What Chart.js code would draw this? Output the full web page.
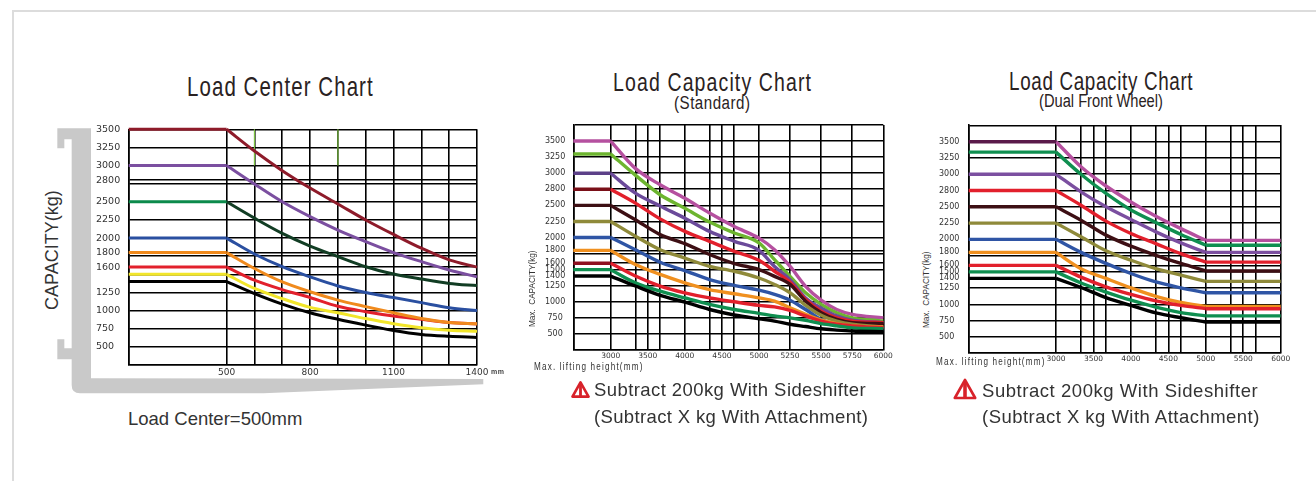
<!DOCTYPE html>
<html>
<head>
<meta charset="UTF-8">
<script src="https://cdn.jsdelivr.net/npm/chart.js"></script>
<style>
  html, body { margin:0; padding:0; background:#fff; }
  body { width:1316px; height:481px; position:relative; overflow:hidden; font-family:'Liberation Sans',sans-serif; color:#222; }
  canvas { position:absolute; }
  .frame { position:absolute; left:12px; top:10px; width:1320px; height:480px; border:2px solid #dcdcdc; }
  .txt { position:absolute; white-space:nowrap; line-height:1; transform-origin:0 0; }
  .head { color:#2a2222; }
  .note { font-size:18.5px; letter-spacing:.42px; color:#333; }
  .cap { font-size:11px; letter-spacing:1.6px; color:#333; transform:scaleX(.74); }
  .rot { transform:rotate(-90deg); }
  svg { position:absolute; }
</style>
</head>
<body>
<div class="frame"></div>

<!-- fork shape behind the first chart -->
<svg style="left:0;top:0" width="1316" height="481">
  <path transform="translate(30 60) scale(.3333)" fill="#c9c9c9"
    d="M82,205 L183,205 L183,955 L1360,957 L1360,973 L700,1000 L150,1000 Q125,1000 125,975 L125,898 L82,898 L82,838 L103,838 L103,865 L125,865 L125,238 L103,238 L103,265 L82,265 Z"/>
</svg>

<canvas id="cvsLoad" width="420" height="262" style="left:96px;top:120px"></canvas>
<canvas id="cvsStd" width="360" height="255" style="left:544px;top:115px"></canvas>
<canvas id="cvsDual" width="360" height="255" style="left:939px;top:115px"></canvas>

<div class="txt head" style="left:187px;top:73px;font-size:28px;letter-spacing:1.5px;transform:scaleX(.73)">Load Center Chart</div>
<div class="txt rot" style="left:43px;top:310px;font-size:18px;color:#333">CAPACITY(kg)</div>
<div class="txt" style="left:491px;top:368px;font-size:7px;font-weight:bold;color:#444;letter-spacing:.5px">mm</div>
<div class="txt" style="left:128px;top:410px;font-size:18.5px;color:#333">Load Center=500mm</div>

<div class="txt head" style="left:613px;top:69px;font-size:26px;letter-spacing:1.5px;transform:scaleX(.75)">Load Capacity Chart</div>
<div class="txt head" style="left:674px;top:94px;font-size:18px;letter-spacing:.6px;transform:scaleX(.84)">(Standard)</div>
<div class="txt" style="left:527px;top:327px;font-size:9.5px;color:#333;transform:rotate(-90deg) scaleX(.86)">Max.&nbsp; CAPACITY(kg)</div>
<div class="txt cap" style="left:534px;top:361px">Max. lifting height(mm)</div>
<svg style="left:571px;top:381px" width="19" height="17" viewBox="0 0 20 18">
  <path d="M10,1.5 L18.5,16.5 L1.5,16.5 Z" fill="#fff" stroke="#d8222a" stroke-width="2.8" stroke-linejoin="round"/>
  <path d="M10,4 L10,17" stroke="#d8222a" stroke-width="3"/>
</svg>
<div class="txt note" style="left:594px;top:381px">Subtract 200kg With Sideshifter</div>
<div class="txt note" style="left:594px;top:408px;letter-spacing:.36px">(Subtract X kg With Attachment)</div>

<div class="txt head" style="left:1009px;top:68px;font-size:26px;letter-spacing:.9px;transform:scaleX(.725)">Load Capacity Chart</div>
<div class="txt head" style="left:1039px;top:92px;font-size:18px;transform:scaleX(.815)">(Dual Front Wheel)</div>
<div class="txt" style="left:921px;top:328px;font-size:9.5px;color:#333;transform:rotate(-90deg) scaleX(.86)">Max.&nbsp; CAPACITY(kg)</div>
<div class="txt cap" style="left:936px;top:356px">Max. lifting height(mm)</div>
<svg style="left:953px;top:378px" width="24" height="22" viewBox="0 0 20 18">
  <path d="M10,1.5 L18.5,16.5 L1.5,16.5 Z" fill="#fff" stroke="#d8222a" stroke-width="2.2" stroke-linejoin="round"/>
  <path d="M10,4 L10,17" stroke="#d8222a" stroke-width="3"/>
</svg>
<div class="txt note" style="left:982px;top:382px;letter-spacing:.55px">Subtract 200kg With Sideshifter</div>
<div class="txt note" style="left:982px;top:408px;letter-spacing:.47px">(Subtract X kg With Attachment)</div>

<script>
// chart 1 - load center
const loadX = [148,500,600,700,800,900,1000,1100,1200,1300,1400];
const load3500 = [3500,3500,3200,2930,2690,2470,2250,2050,1860,1700,1600];
const load3000 = [3000,3000,2745,2500,2295,2110,1950,1800,1675,1560,1465];
const load2500 = [2500,2500,2275,2065,1890,1745,1605,1505,1435,1375,1345];
const load2000 = [2000,2000,1780,1605,1465,1340,1250,1180,1110,1040,1000];
const load1800 = [1800,1800,1580,1395,1260,1145,1055,970,890,835,820];
const load1600 = [1600,1600,1420,1290,1180,1060,985,925,880,835,815];
const load1500 = [1500,1500,1305,1165,1045,970,890,820,765,730,715];
const load1400 = [1400,1400,1235,1090,970,880,800,725,670,645,630];
const loadXTicks = [148,500,600,700,800,900,1000,1100,1200,1300,1400];
const loadXLabels = ['','500','','','800','','','1100','','','1400'];
const loadYTicks = [250,500,750,1000,1250,1500,1600,1750,1800,2000,2250,2500,2750,2800,3000,3250,3500];
const loadYLabels = ['','500','750','1000','1250','','1600','','1800','2000','2250','2500','','2800','3000','3250','3500'];
const stray600 = [3500,3000];
const stray900 = [3500,3000];

// chart 2 - standard
const stdX = [2496,3000,3333,3667,4000,4333,4667,5000,5125,5250,5375,5500,5625,5750,6000];
const std3500 = [3500,3500,3075,2820,2610,2380,2170,1990,1810,1550,1240,1025,880,805,750];
const std3250 = [3300,3300,2970,2665,2455,2240,2070,1915,1655,1395,1140,960,830,750,700];
const std3000 = [3000,3000,2690,2490,2300,2095,1940,1800,1550,1345,1060,905,780,715,675];
const std2800 = [2750,2750,2535,2290,2095,1940,1785,1645,1475,1305,1035,855,750,700,675];
const std2500 = [2500,2500,2275,2045,1905,1735,1595,1500,1395,1270,1010,830,725,675,660];
const std2250 = [2250,2250,2020,1810,1680,1550,1475,1370,1270,1140,945,790,700,650,610];
const std2000 = [2000,2000,1810,1615,1485,1345,1255,1180,1115,1025,880,725,650,610,580];
const std1800 = [1800,1800,1580,1425,1295,1190,1125,1060,1010,905,805,715,660,625,610];
const std1600 = [1600,1600,1400,1245,1140,1060,1000,945,920,865,780,700,650,625,595];
const std1500 = [1500,1500,1295,1165,1060,960,880,820,780,750,710,660,625,595,580];
const std1400 = [1400,1400,1245,1100,995,880,795,735,700,650,615,580,560,545,535];
const stdXTicks = [2496,3000,3333,3500,3667,4000,4333,4500,4667,5000,5250,5500,5750,6000];
const stdXLabels = ['','3000','','3500','','4000','','4500','','5000','5250','5500','5750','6000'];
const capYTicks = [250,500,750,1000,1250,1400,1500,1600,1750,1800,2000,2250,2500,2750,3000,3250,3500,3750];
const capYLabels = ['','500','750','1000','1250','1400','1500','1600','','1800','2000','2250','2500','2800','3000','3250','3500',''];

// chart 3 - dual front wheel
const dualX = [1834,3000,3333,3667,4000,4333,4667,5000,6000];
const dual3500 = [3500,3500,3115,2820,2575,2355,2165,1985,1985];
const dual3250 = [3340,3340,3000,2705,2450,2260,2075,1910,1910];
const dual3000 = [3000,3000,2730,2500,2305,2115,1945,1800,1800];
const dual2800 = [2750,2750,2525,2280,2090,1935,1780,1650,1650];
const dual2500 = [2500,2500,2295,2065,1895,1755,1630,1515,1515];
const dual2250 = [2250,2250,2040,1825,1680,1550,1450,1355,1355];
const dual2000 = [2000,2000,1800,1630,1475,1345,1255,1180,1180];
const dual1800 = [1800,1800,1550,1400,1255,1125,1030,970,970];
const dual1600 = [1600,1600,1420,1270,1155,1055,985,935,935];
const dual1500 = [1500,1500,1330,1190,1065,960,875,825,825];
const dual1400 = [1400,1400,1260,1105,985,870,795,730,730];
const dualXTicks = [1834,3000,3333,3500,3667,4000,4333,4500,4667,5000,5333,5500,5667,6000];
const dualXLabels = ['','3000','','3500','','4000','','4500','','5000','','5500','','6000'];

// x axis of the standard chart is stretched after 5000
class StretchScale extends Chart.registry.getScale('linear') {
  getPixelForValue(v) {
    const bend = 0.599;
    const f = v <= 5000 ? bend * (v - this.min) / (5000 - this.min)
                        : bend + (1 - bend) * (v - 5000) / (this.max - 5000);
    return this.getPixelForDecimal(f);
  }
}
StretchScale.id = 'stretch';
Chart.register(StretchScale);

function piece(xs, ys, from, to, color, width) {
  return {
    data: xs.slice(from, to + 1).map((x, i) => ({ x, y: ys[from + i] })),
    borderColor: color, borderWidth: width, pointRadius: 0,
    cubicInterpolationMode: 'monotone', clip: false
  };
}

// flat start, curved middle, flat end if there is one
function line(xs, ys, flat, curve, width) {
  let k = ys.length - 1;
  while (ys[k] === ys[k - 1] && k > 1) k--;
  const out = [piece(xs, ys, 0, 1, flat, width), piece(xs, ys, 1, k, curve, width)];
  if (k < ys.length - 1) out.push(piece(xs, ys, k, ys.length - 1, curve, width));
  return out;
}

function draw(id, o) {
  const xMin = o.xTicks[0], xMax = o.xTicks[o.xTicks.length - 1];
  new Chart(document.getElementById(id), {
    type: 'line',
    data: { datasets: o.sets.flat() },
    options: {
      responsive: false, animation: false,
      layout: { padding: o.pad },
      plugins: { legend: { display: false }, tooltip: { enabled: false } },
      scales: {
        x: {
          type: o.xType || 'linear', min: xMin, max: xMax,
          afterBuildTicks: s => { s.ticks = o.xTicks.map(value => ({ value })); },
          afterFit: s => { s.height = o.xH; s.paddingLeft = 0; s.paddingRight = 0; },
          grid: { color: '#000', lineWidth: 1.6, drawTicks: false },
          border: { color: '#000', width: 1.6 },
          ticks: {
            autoSkip: false, maxRotation: 0, minRotation: 0, padding: 2, color: '#333',
            font: { family: 'DejaVu Sans', size: o.xFont },
            callback: v => o.xLabels[o.xTicks.indexOf(v)]
          }
        },
        y: {
          type: 'linear', min: o.yMin, max: o.yMax,
          afterBuildTicks: s => { s.ticks = o.yTicks.filter(v => v <= o.yMax).map(value => ({ value })); },
          afterFit: s => { s.width = o.yW; s.paddingTop = 0; s.paddingBottom = 0; },
          grid: {
            color: c => c.tick && c.tick.value === 1400 ? 'rgba(0,0,0,0)' : '#000',
            lineWidth: 1.6, drawTicks: false
          },
          border: { color: '#000', width: 1.6 },
          ticks: {
            autoSkip: false, padding: 8, crossAlign: o.yAlign, color: '#333',
            font: { family: 'DejaVu Sans', size: o.yFont },
            callback: v => o.yLabels[o.yTicks.indexOf(v)]
          }
        }
      }
    }
  });
}

draw('cvsLoad', {
  xTicks: loadXTicks, xLabels: loadXLabels, yTicks: loadYTicks, yLabels: loadYLabels,
  yMin: 250, yMax: 3500, yAlign: 'far', yW: 32.7, xH: 17, xFont: 9, yFont: 9.5,
  pad: { left: 0, top: 9.3, right: 39, bottom: 0 },
  sets: [
    line(loadX, load1400, '#000', '#000', 3),
    line(loadX, load1800, '#f08a1d', '#f08a1d', 3),
    line(loadX, load1600, '#e2202c', '#e2202c', 3),
    line(loadX, load1500, '#f2e62a', '#f2e62a', 3),
    line(loadX, load2000, '#2a4fa0', '#2a4fa0', 3),
    line(loadX, load2500, '#0b8a4b', '#123d24', 3),
    line(loadX, load3000, '#7b4fa0', '#7b4fa0', 3),
    line(loadX, load3500, '#8e1b2a', '#8e1b2a', 3),
    piece([600, 600], stray600, 0, 1, '#7cc242', 1.2),
    piece([900, 900], stray900, 0, 1, '#7cc242', 1.2)
  ]
});

draw('cvsStd', {
  xType: 'stretch',
  xTicks: stdXTicks, xLabels: stdXLabels, yTicks: capYTicks, yLabels: capYLabels,
  yMin: 250, yMax: 3750, yAlign: 'center', yW: 29.3, xH: 20, xFont: 7.5, yFont: 8,
  pad: { left: 0, top: 10, right: 20.7, bottom: 0 },
  sets: [
    line(stdX, std1400, '#000', '#000', 3.4),
    line(stdX, std1500, '#0f8f50', '#0f8f50', 3.4),
    line(stdX, std1600, '#8e1020', '#e2202c', 3.4),
    line(stdX, std1800, '#f0901f', '#f0901f', 3.4),
    line(stdX, std2000, '#2f55a5', '#2f55a5', 3.4),
    line(stdX, std2250, '#8f8a3a', '#8f8a3a', 3.4),
    line(stdX, std2500, '#3d0f14', '#3d0f14', 3.4),
    line(stdX, std2800, '#7a0f18', '#e2202c', 3.4),
    line(stdX, std3000, '#5c4088', '#6b4a9a', 3.4),
    line(stdX, std3250, '#6db52f', '#6db52f', 3.4),
    line(stdX, std3500, '#b5509f', '#b5509f', 3.4)
  ]
});

draw('cvsDual', {
  xTicks: dualXTicks, xLabels: dualXLabels, yTicks: capYTicks, yLabels: capYLabels,
  yMin: 254, yMax: 3757, yAlign: 'far', yW: 29.7, xH: 17, xFont: 7.5, yFont: 8,
  pad: { left: 0, top: 10, right: 18.3, bottom: 0 },
  sets: [
    line(dualX, dual1400, '#000', '#000', 3.4),
    line(dualX, dual1500, '#0f8f50', '#0f8f50', 3.4),
    line(dualX, dual1600, '#e2202c', '#e2202c', 3.4),
    line(dualX, dual1800, '#f0901f', '#f0901f', 3.4),
    line(dualX, dual2000, '#2f55a5', '#2f55a5', 3.4),
    line(dualX, dual2250, '#8f8a3a', '#8f8a3a', 3.4),
    line(dualX, dual2500, '#3d0f14', '#3d0f14', 3.4),
    line(dualX, dual2800, '#e2202c', '#e2202c', 3.4),
    line(dualX, dual3000, '#7b4fa0', '#7b4fa0', 3.4),
    line(dualX, dual3250, '#0f8f50', '#0f8f50', 3.4),
    line(dualX, dual3500, '#5a1a4a', '#b5509f', 3.4)
  ]
});
</script>
</body>
</html>
